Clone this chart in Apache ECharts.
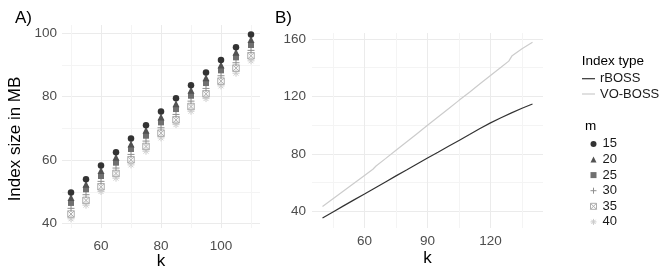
<!DOCTYPE html>
<html>
<head>
<meta charset="utf-8">
<script src="https://cdn.jsdelivr.net/npm/echarts@6/dist/echarts.min.js"></script>
<style>
html,body{margin:0;padding:0;background:#fff;}
#chart{width:664px;height:275px;}
</style>
</head>
<body>
<div id="chart"></div>
<script>
// ---- Panel A data: index size (MB) vs k, one array per m ----
const kA = [50, 55, 60, 65, 70, 75, 80, 85, 90, 95, 100, 105, 110];
const m15 = [49.8, 54.0, 58.3, 62.5, 66.8, 71.0, 75.3, 79.5, 83.6, 87.6, 91.6, 95.6, 99.6];
const m20 = [48.2, 52.4, 56.7, 60.9, 65.1, 69.4, 73.6, 77.8, 82.0, 86.0, 90.0, 94.0, 98.0];
const m25 = [46.5, 50.8, 55.0, 59.2, 63.5, 67.7, 71.9, 76.1, 80.3, 84.3, 88.3, 92.4, 96.3];
const m30 = [44.8, 49.1, 53.3, 57.5, 61.8, 66.0, 70.2, 74.4, 78.6, 82.6, 86.6, 90.7, 94.6];
const m35 = [43.0, 47.3, 51.6, 55.8, 60.1, 64.3, 68.5, 72.7, 76.9, 80.9, 84.9, 89.0, 92.9];
const m40 = [41.5, 45.8, 50.1, 54.3, 58.5, 62.8, 67.0, 71.2, 75.4, 79.4, 83.4, 87.4, 91.3];
const mNames = ['15', '20', '25', '30', '35', '40'];

// ---- Panel B data: index size vs k per index type ----
const kRB = [40, 45, 50, 55, 60, 65, 70, 75, 80, 85, 90, 95, 100, 105, 110, 115, 120, 125, 130, 135, 140];
const rBOSS = [35.4, 39.6, 43.8, 48.0, 52.1, 56.3, 60.5, 64.7, 68.8, 73.0, 77.2, 81.2, 85.3, 89.4, 93.5, 97.7, 101.6, 105.2, 108.6, 111.8, 114.8];
const kVO = [40, 45, 50, 55, 60, 64, 65.5, 70, 75, 80, 85, 90, 95, 100, 105, 110, 115, 120, 125, 128.7, 130.3, 135, 140];
const VOBOSS = [43.4, 48.8, 54.2, 59.6, 65.0, 69.3, 71.6, 76.7, 82.5, 88.3, 94.1, 99.9, 105.7, 111.5, 117.3, 123.0, 128.8, 134.6, 140.3, 144.6, 148.4, 153.2, 157.7];
const indexTypes = ['rBOSS', 'VO-BOSS'];

// ---- Tick values ----
const xTicksA = [50, 60, 70, 80, 90, 100, 110];
const xLabelsA = [60, 80, 100];
const yTicksA = [40, 50, 60, 70, 80, 90, 100];
const yLabelsA = [40, 60, 80, 100];
const xTicksB = [45, 60, 75, 90, 105, 120, 135];
const xLabelsB = [60, 90, 120];
const yTicksB = [40, 60, 80, 100, 120, 140, 160];
const yLabelsB = [40, 80, 120, 160];

const FONT = '"Liberation Sans", Arial, Helvetica, sans-serif';
const MAJOR = '#ebebeb', MINOR = '#f4f4f4';
const greys = ['#333333', '#525252', '#707070', '#8f8f8f', '#adadad', '#cccccc'];
const symbols = [
  'circle',
  'triangle',
  'rect',
  'path://M5,0L5,10M0,5L10,5',
  'path://M0,0L10,0L10,10L0,10ZM0,0L10,10M10,0L0,10',
  'path://M5,0L5,10M0,5L10,5M1.5,1.5L8.5,8.5M8.5,1.5L1.5,8.5'
];
const symSizes = [6.5, 7, 6, 7, 6.5, 7];
const filled = [true, true, true, false, false, false];
const mSeriesData = [m15, m20, m25, m30, m35, m40];
const lineIcon = 'path://M0,0L13,0L13,1.2L0,1.2Z';

function zip(xs, ys) { return xs.map((x, i) => [x, ys[i]]); }

function valueAxis(gridIndex, min, max, ticks, labels, firstMajor, margin) {
  const colors = firstMajor ? [MAJOR, MINOR] : [MINOR, MAJOR];
  return {
    gridIndex: gridIndex, type: 'value', min: min, max: max,
    axisLine: { show: false },
    axisTick: { show: false, customValues: ticks },
    axisLabel: { customValues: labels, color: '#4d4d4d', fontSize: 13.5, fontFamily: FONT, margin: margin },
    splitLine: { show: true, lineStyle: { color: colors, width: 1 } }
  };
}

function pointStyle(i) {
  return filled[i]
    ? { color: greys[i], borderWidth: 0, opacity: 1 }
    : { color: 'rgba(0,0,0,0)', borderColor: greys[i], borderWidth: 1, opacity: 1 };
}

const series = [];
mNames.forEach((name, i) => {
  series.push({
    name: name, type: 'scatter', xAxisIndex: 0, yAxisIndex: 0,
    data: zip(kA, mSeriesData[i]),
    symbol: symbols[i], symbolSize: symSizes[i],
    itemStyle: pointStyle(i),
    z: 10 - i
  });
});
series.push({
  name: 'rBOSS', type: 'line', xAxisIndex: 1, yAxisIndex: 1,
  data: zip(kRB, rBOSS), symbol: 'none', lineStyle: { color: '#333333', width: 1.2 },
  itemStyle: { color: '#333333' }
});
series.push({
  name: 'VO-BOSS', type: 'line', xAxisIndex: 1, yAxisIndex: 1,
  data: zip(kVO, VOBOSS), symbol: 'none', lineStyle: { color: '#cccccc', width: 1.2 },
  itemStyle: { color: '#cccccc' }
});

const chart = echarts.init(document.getElementById('chart'), null, { renderer: 'canvas' });
chart.setOption({
  animation: false,
  backgroundColor: '#ffffff',
  grid: [
    { left: 62, top: 25, width: 198, height: 203 },
    { left: 312, top: 33, width: 231, height: 195 }
  ],
  xAxis: [
    valueAxis(0, 47, 113, xTicksA, xLabelsA, false, 11),
    valueAxis(1, 35, 145, xTicksB, xLabelsB, false, 6)
  ],
  yAxis: [
    valueAxis(0, 38.6, 102.6, yTicksA, yLabelsA, true, 5),
    valueAxis(1, 28.4, 164.2, yTicksB, yLabelsB, true, 6)
  ],
  legend: [
    {
      data: indexTypes.map((n, i) => ({ name: n, icon: lineIcon, itemStyle: { color: i === 0 ? '#333333' : '#cccccc', borderWidth: 0, opacity: 1 } })),
      orient: 'vertical', left: 577, top: 67.2,
      itemWidth: 13, itemHeight: 14, itemGap: 2.3,
      textStyle: { fontSize: 13, fontFamily: FONT, color: '#1a1a1a' },
      selectedMode: false
    },
    {
      data: mNames.map((n, i) => ({ name: n, icon: symbols[i], itemStyle: pointStyle(i) })),
      orient: 'vertical', left: 585, top: 132.4,
      itemWidth: 6, itemHeight: 6, itemGap: 2.6,
      textStyle: { fontSize: 13, fontFamily: FONT, color: '#1a1a1a', padding: [0, 0, 0, 1] },
      selectedMode: false
    }
  ],
  graphic: [
    { type: 'text', left: 15, top: 10, style: { text: 'A)', fontSize: 17, fontFamily: FONT, fill: '#000' } },
    { type: 'text', left: 275, top: 10, style: { text: 'B)', fontSize: 17, fontFamily: FONT, fill: '#000' } },
    { type: 'text', x: 15, y: 139, rotation: Math.PI / 2,
      style: { text: 'Index size in MB', fontSize: 17, fontFamily: FONT, fill: '#000', align: 'center', verticalAlign: 'middle' } },
    { type: 'text', x: 161, y: 261, style: { text: 'k', fontSize: 17, fontFamily: FONT, fill: '#000', align: 'center', verticalAlign: 'middle' } },
    { type: 'text', x: 427.5, y: 258, style: { text: 'k', fontSize: 17, fontFamily: FONT, fill: '#000', align: 'center', verticalAlign: 'middle' } },
    { type: 'text', x: 581.7, y: 61.7, style: { text: 'Index type', fontSize: 13.5, fontFamily: FONT, fill: '#000', align: 'left', verticalAlign: 'middle' } },
    { type: 'text', x: 585, y: 126.5, style: { text: 'm', fontSize: 13.5, fontFamily: FONT, fill: '#000', align: 'left', verticalAlign: 'middle' } }
  ],
  series: series
});
</script>
</body>
</html>
